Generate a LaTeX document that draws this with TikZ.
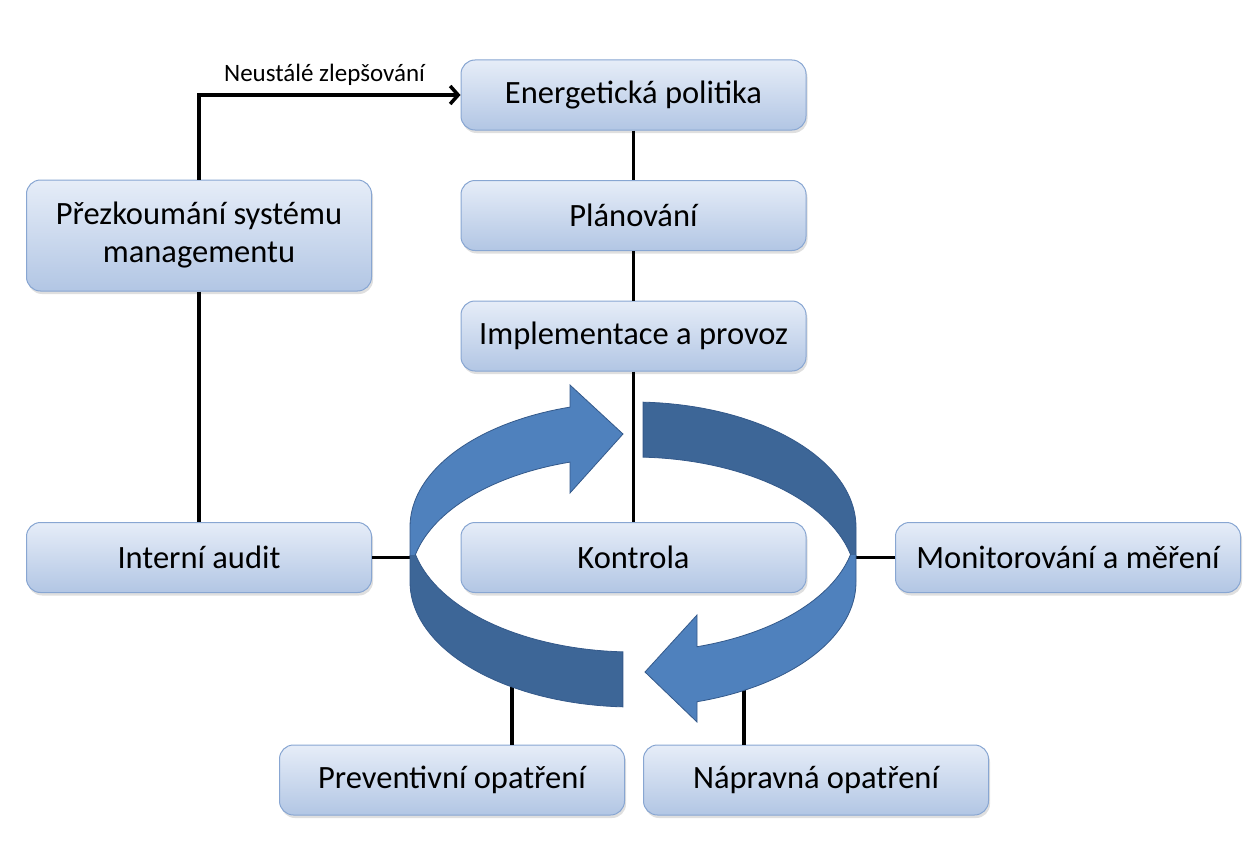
\documentclass[tikz,border=0pt]{standalone}
\usepackage{fontspec}
\setmainfont{Carlito}
\usetikzlibrary{arrows.meta,shadows}
\definecolor{boxtop}{HTML}{E6EDF8}
\definecolor{boxbot}{HTML}{B2C6E4}
\definecolor{boxedge}{HTML}{88A6D2}
\definecolor{ringlight}{HTML}{4F81BD}
\definecolor{ringdark}{HTML}{3D6697}
\definecolor{ringedge}{HTML}{34598A}
\tikzset{
  box/.style={draw=boxedge, line width=1pt, rounded corners=14pt,
    top color=boxtop, bottom color=boxbot,
    minimum width=345pt, minimum height=70pt, align=center,
    font=\fontsize{32.5}{38}\selectfont, text=black,
    drop shadow={shadow xshift=1.5pt, shadow yshift=-3pt, opacity=0.25}},
  conn/.style={line width=3.5pt, black},
  ringl/.style={fill=ringlight, draw=ringedge, line width=0.8pt},
  ringd/.style={fill=ringdark, draw=ringedge, line width=0.8pt}
}
\begin{document}
\begin{tikzpicture}[x=1pt,y=-1pt]
\useasboundingbox (0,0) rectangle (1254,867);
% boxes
\node[box] (energ) at (633.5,95) {\raisebox{-2pt}{Energetická politika}};
\node[box] (plan) at (633.5,215.5) {\raisebox{-2pt}{Plánování}};
\node[box] (impl) at (633.5,336) {\raisebox{-2pt}{Implementace a provoz}};
\node[box, minimum height=111pt] (prez) at (199,235.5) {Přezkoumání systému\\managementu};
\node[box] (audit) at (199,557.5) {\raisebox{-2pt}{Interní audit}};
\node[box] (kontr) at (633.5,557.5) {\raisebox{-2pt}{Kontrola}};
\node[box] (monit) at (1068,557.5) {\raisebox{-2pt}{Monitorování a měření}};
\node[box] (prev) at (452,780) {\raisebox{-2pt}{Preventivní opatření}};
\node[box] (naprav) at (816,780) {\raisebox{-2pt}{Nápravná opatření}};
% free ends at the ring
\coordinate (ringL) at (416,557.5);
\coordinate (ringR) at (850,557.5);
\coordinate (ringBL) at (512,680);
\coordinate (ringBR) at (744,680);
% connectors
\draw[conn] (energ) -- (plan);
\draw[conn] (plan) -- (impl);
\draw[conn] (impl) -- (kontr);
\draw[conn] (prez) -- (audit);
\draw[conn, -{Straight Barb[length=8pt,width=18pt]}] (prez.north) |- node[pos=0.74, above=4pt, black, font=\fontsize{25}{30}\selectfont] {Neustálé zlepšování} (energ.west);
\draw[conn] (audit.east) -- (ringL);
\draw[conn] (monit.west) -- (ringR);
\draw[conn] (prev.north -| ringBL) -- (ringBL);
\draw[conn] (naprav.north -| ringBR) -- (ringBR);
% circular arrows
\begin{scope}
\clip (0,0) rectangle (1254,555);
% left arrow, back part (light) with head
\path[ringl] plot[domain=106.4:180, samples=40] ({633+223*cos(\x)},{527-125*sin(\x)})
  -- plot[domain=180:106.4, samples=40] ({633+223*cos(\x)},{582-125*sin(\x)})
  -- (570,493) -- (623,434) -- (570,385) -- cycle;
% right arrow, back part (dark)
\path[ringd] plot[domain=87.4:0, samples=40] ({633+223*cos(\x)},{527-125*sin(\x)})
  -- plot[domain=0:87.4, samples=40] ({633+223*cos(\x)},{582-125*sin(\x)}) -- cycle;
\end{scope}
\begin{scope}
\clip (0,555) rectangle (1254,867);
% left arrow, front part (dark)
\path[ringd] plot[domain=180:267.4, samples=40] ({633+223*cos(\x)},{527-125*sin(\x)})
  -- plot[domain=267.4:180, samples=40] ({633+223*cos(\x)},{582-125*sin(\x)}) -- cycle;
% right arrow, front part (light) with head
\path[ringl] plot[domain=360:286.7, samples=40] ({633+223*cos(\x)},{527-125*sin(\x)})
  -- (697,615) -- (645,672) -- (697,722)
  -- plot[domain=286.7:360, samples=40] ({633+223*cos(\x)},{582-125*sin(\x)}) -- cycle;
\end{scope}
\end{tikzpicture}
\end{document}
